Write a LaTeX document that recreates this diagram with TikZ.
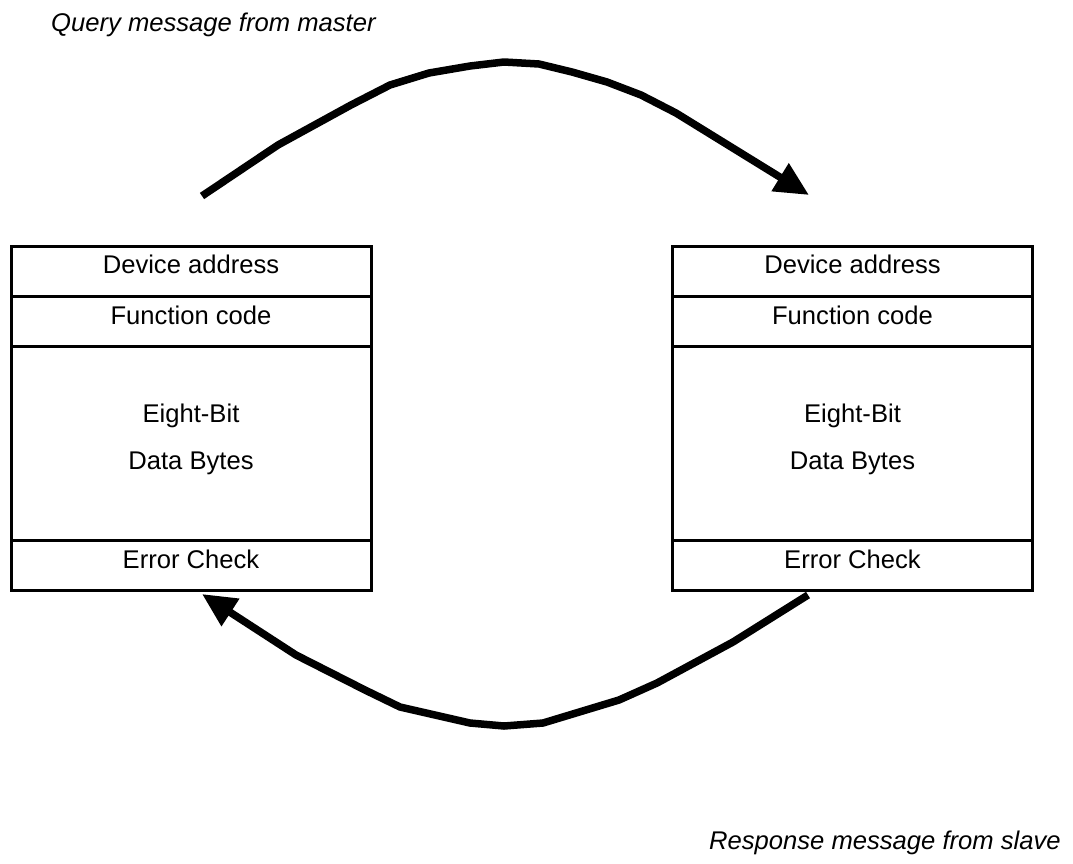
\documentclass[tikz,border=0pt]{standalone}
\usepackage{fontspec}
\setmainfont{Liberation Sans}
\usetikzlibrary{arrows.meta}
\begin{document}
\begin{tikzpicture}[x=1pt,y=-1pt,
  row/.style={draw, line width=3pt, rectangle, inner sep=0pt, outer sep=0pt, minimum width=360pt},
  lbl/.style={font=\fontsize{25.6}{30}\selectfont, anchor=base, inner sep=0pt},
  captxt/.style={font=\fontsize{25.6}{30}\selectfont\itshape, anchor=base west, inner sep=0pt},
  flow/.style={line width=7.5pt, line join=round, -{Triangle[length=34pt,width=31pt]}}]
\useasboundingbox (0,0) rectangle (1073,863);
% left frame
\node[row, minimum height=50pt]  (la) at (191,271) {};
\node[row, minimum height=50pt]  (lf) at (191,321) {};
\node[row, minimum height=194pt] (ld) at (191,443) {};
\node[row, minimum height=50pt]  (le) at (191,565) {};
\node[lbl] (lat) at (191,273) {Device address};
\node[lbl] (lft) at (191,324) {Function code};
\node[lbl] (ldt1) at (191,422) {Eight-Bit};
\node[lbl] (ldt2) at (191,469) {Data Bytes};
\node[lbl] (let) at (191,568) {Error Check};
% right frame
\node[row, minimum height=50pt]  (ra) at (852.5,271) {};
\node[row, minimum height=50pt]  (rf) at (852.5,321) {};
\node[row, minimum height=194pt] (rd) at (852.5,443) {};
\node[row, minimum height=50pt]  (re) at (852.5,565) {};
\node[lbl] (rat) at (852.5,273) {Device address};
\node[lbl] (rft) at (852.5,324) {Function code};
\node[lbl] (rdt1) at (852.5,422) {Eight-Bit};
\node[lbl] (rdt2) at (852.5,469) {Data Bytes};
\node[lbl] (ret) at (852.5,568) {Error Check};
% captions
\node[captxt] (query) at (51,31) {Query message from master};
\node[captxt] (resp) at (709,849) {Response message from slave};
% connector ends
\coordinate (qs) at (202,196);
\coordinate (qe) at (809,195);
\coordinate (rs) at (808,595);
\coordinate (rend) at (202,594);
\draw[flow] (qs) -- (278,145) -- (351,105) -- (390,85) -- (429,73) -- (470,66) -- (504,62)
  -- (539,64) -- (572,72) -- (607,82) -- (641,95) -- (676,113) -- (qe);
\draw[flow] (rs) -- (733,642) -- (657,683) -- (619,700) -- (543,723) -- (504,726) -- (470,723)
  -- (400,707) -- (365,690) -- (296,655) -- (rend);
\end{tikzpicture}
\end{document}
